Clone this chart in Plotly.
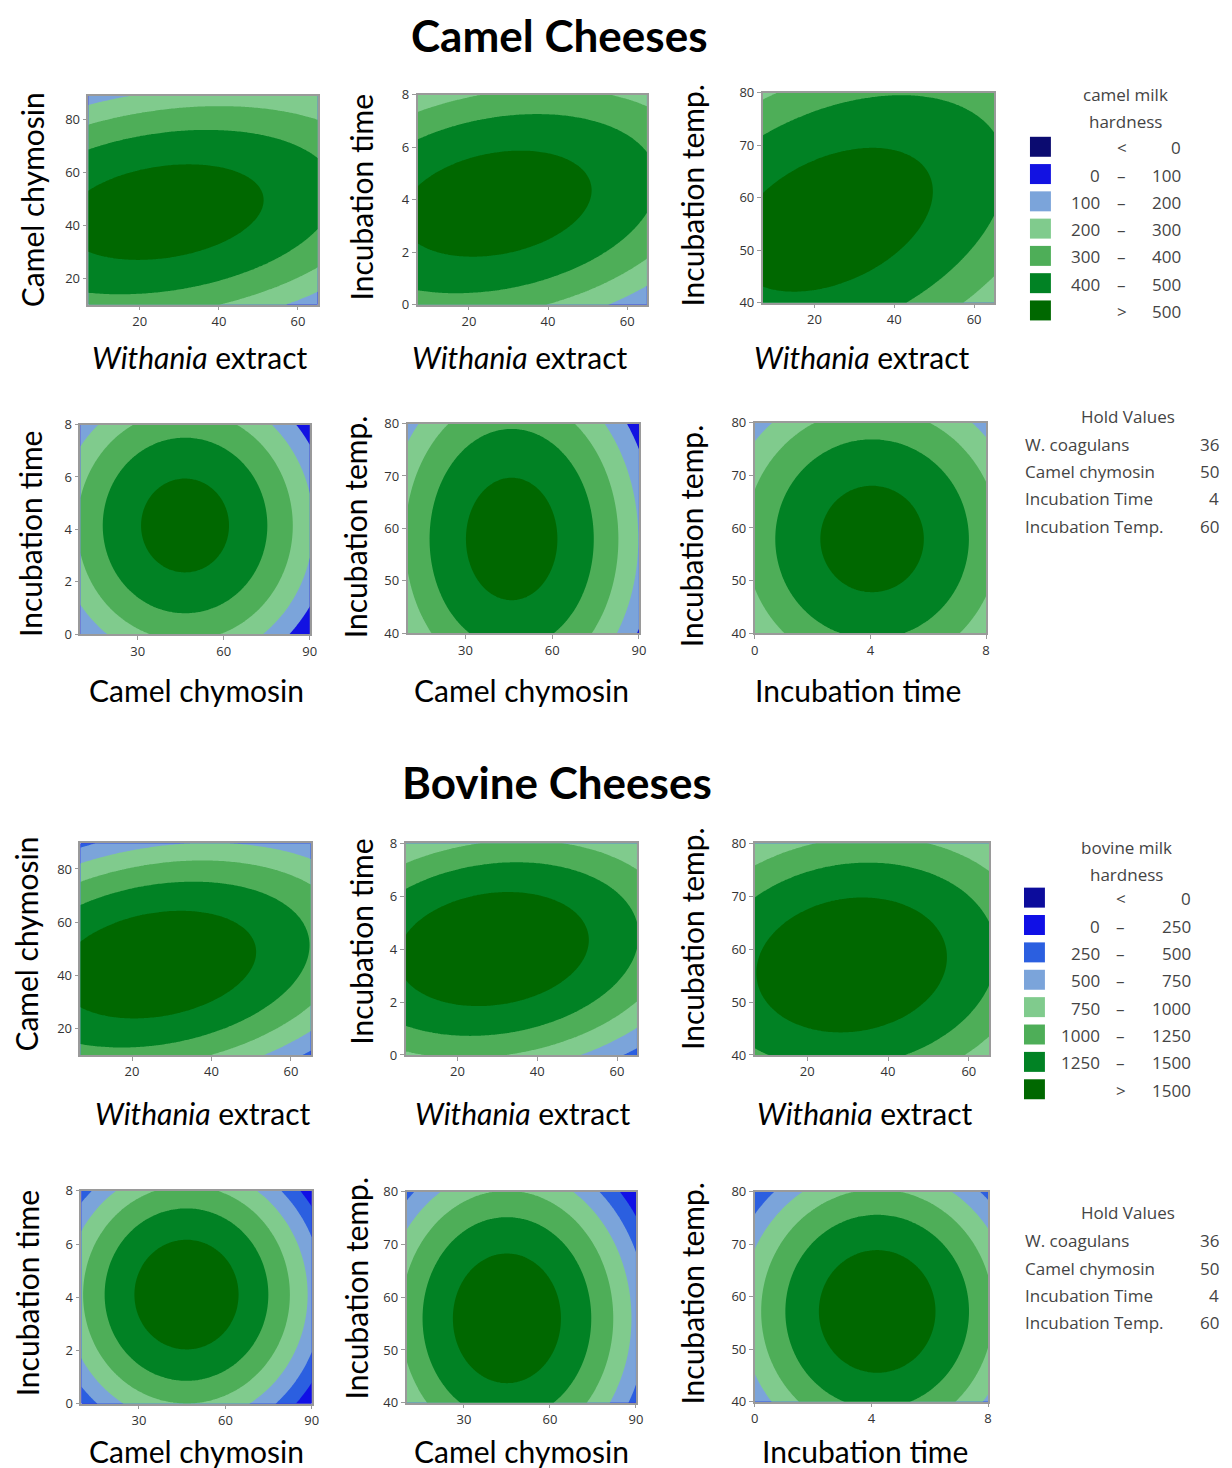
import numpy as np
import plotly.graph_objects as go

W, H = 1232, 1468

# ---------------- data ----------------
# Response-surface slices, one per panel (6 camel, 6 bovine).
# Each slice: hardness = peak - curv_x*dx^2 - curv_y*dy^2 + cross*dx*dy
panel_x_var = ["withania", "withania", "withania", "chymosin", "chymosin", "time",
               "withania", "withania", "withania", "chymosin", "chymosin", "time"]
panel_y_var = ["chymosin", "time", "temp", "time", "temp", "temp",
               "chymosin", "time", "temp", "time", "temp", "temp"]
x_low = [7, 7, 7, 10, 10, 0, 7, 7, 7, 10, 10, 0]
x_high = [65, 65, 65, 90, 90, 8, 65, 65, 65, 90, 90, 8]
y_low = [10, 0, 40, 0, 40, 40, 10, 0, 40, 0, 40, 40]
y_high = [89, 8, 80, 8, 80, 80, 89.7, 8, 80, 8, 80, 80]
center_x = [26, 27, 24.7, 46.5, 46, 4.06, 26.4, 29, 31, 46.5, 45, 4.2]
center_y = [45, 3.85, 55.8, 4.15, 58, 57.9, 44, 4.0, 57, 4.1, 56, 57.2]
peak = [551, 554, 550, 540, 545, 540, 1682, 1690, 1692, 1670, 1674, 1669]
curv_x = [0.085, 0.1, 0.095, 0.17, 0.18, 12.5, 0.312, 0.34, 0.35, 0.52, 0.49, 42.3]
curv_y = [0.1667, 14.1, 0.315, 12.5, 0.33, 0.392, 0.47, 42, 1.2, 40, 1.15, 1.235]
cross = [0.06, 0.6, 0.1365, 0, 0, 0, 0.18, 1.2, 0.15, 0, 0, 0]

tick_vals_x = {"withania": [20, 40, 60], "chymosin": [30, 60, 90], "time": [0, 4, 8]}
tick_vals_y = {"chymosin": [20, 40, 60, 80], "time": [0, 2, 4, 6, 8], "temp": [40, 50, 60, 70, 80]}
x_titles = {"withania": "<i>Withania</i> extract", "chymosin": "Camel chymosin", "time": "Incubation time"}
y_titles = {"chymosin": "Camel chymosin", "time": "Incubation time", "temp": "Incubation temp."}

camel_levels = [0, 100, 200, 300, 400, 500]
bovine_levels = [0, 250, 500, 750, 1000, 1250, 1500]
camel_colors = ["#0b0b70", "#1212e2", "#7ba4da", "#80cb8d", "#4eae58", "#018224", "#006800"]
bovine_colors = ["#0c0c9c", "#1010e6", "#2b5fe0", "#7ba4da", "#80cb8d", "#4eae58", "#018224", "#006800"]

hold_names = ["W. coagulans", "Camel chymosin", "Incubation Time", "Incubation Temp."]
hold_values = [36, 50, 4, 60]

# ---------------- layout geometry (target pixels) ----------------
boxes = [
    (85, 315, 96, 305), (415, 645, 95, 305), (761, 993, 93, 303),
    (77, 307, 425, 635), (405, 637, 424, 634), (753, 985, 423, 634),
    (77, 308, 844, 1056), (403, 635, 844, 1056), (753, 988, 844, 1056),
    (78, 309, 1192, 1405), (404, 634, 1193, 1404), (753, 987, 1193, 1403),
]
xtitle_pos = [(196, 357), (517, 357), (860, 357),
              (193, 691), (519, 691), (857, 691),
              (199, 1114), (520, 1114), (863, 1114),
              (193, 1452), (519, 1452), (864, 1452)]
ytitle_pos = [(28, 200), (358, 198), (690, 196),
              (27, 535), (353, 528), (690, 537),
              (23, 945), (358, 943), (690, 940),
              (23, 1295), (353, 1290), (690, 1295)]

# page framing compensation (page margin + fit-to-window scaling)
SX, OX = 0.9936, 8.5
SY, OY = 0.9886, 17.3

def px(x):
    return (x / SX - OX) / W

def py(y):
    return 1 - (y / SY - OY) / H

def step_scale(colors):
    n = len(colors)
    return [[i / (n - 1), c] for i, c in enumerate(colors)]

fig = go.Figure()
annotations = []
shapes = []

title_font = dict(family="Lato, sans-serif", size=30, color="#000000")

for i in range(12):
    k = "" if i == 0 else str(i + 1)
    xs = np.linspace(x_low[i], x_high[i], 121)
    ys = np.linspace(y_low[i], y_high[i], 121)
    X, Y = np.meshgrid(xs, ys)
    dx = X - center_x[i]
    dy = Y - center_y[i]
    Z = peak[i] - curv_x[i] * dx ** 2 - curv_y[i] * dy ** 2 + cross[i] * dx * dy
    if i < 6:
        levels, colors = camel_levels, camel_colors
    else:
        levels, colors = bovine_levels, bovine_colors
    fig.add_trace(go.Contour(
        x=xs, y=ys, z=Z,
        xaxis="x" + k, yaxis="y" + k,
        autocontour=False,
        contours=dict(start=levels[0], end=levels[-1], size=levels[1] - levels[0],
                      coloring="fill", showlines=False),
        colorscale=step_scale(colors),
        showscale=False,
        line=dict(width=0, smoothing=0),
        hoverinfo="skip",
    ))
    l, r, t, b = boxes[i]
    axis_common = dict(showline=True, mirror=True, linecolor="#9a9a9a", linewidth=1.5,
                       ticks="outside", ticklen=4, tickcolor="#9a9a9a", tickwidth=1,
                       showgrid=False, zeroline=False,
                       tickfont=dict(family="Open Sans, sans-serif", size=13, color="#333333"))
    fig.update_layout({
        "xaxis" + k: dict(domain=[px(l), px(r)], anchor="y" + k,
                          range=[x_low[i], x_high[i]],
                          tickvals=tick_vals_x[panel_x_var[i]], **axis_common),
        "yaxis" + k: dict(domain=[py(b), py(t)], anchor="x" + k,
                          range=[y_low[i], y_high[i]],
                          tickvals=tick_vals_y[panel_y_var[i]], **axis_common),
    })
    cx, cy = xtitle_pos[i]
    annotations.append(dict(text=x_titles[panel_x_var[i]], x=px(cx), y=py(cy),
                            xref="paper", yref="paper", xanchor="center", yanchor="middle",
                            showarrow=False, font=title_font))
    cx, cy = ytitle_pos[i]
    annotations.append(dict(text=y_titles[panel_y_var[i]], x=px(cx), y=py(cy),
                            xref="paper", yref="paper", xanchor="center", yanchor="middle",
                            textangle=-90, showarrow=False, font=title_font))

# section titles
for txt, cx, cy in [("Camel Cheeses", 557, 35), ("Bovine Cheeses", 555, 783)]:
    annotations.append(dict(text="<b>" + txt + "</b>", x=px(cx), y=py(cy), xref="paper", yref="paper",
                            xanchor="center", yanchor="middle", showarrow=False,
                            font=dict(family="Lato, sans-serif", size=44, color="#000000")))

legend_font = dict(family="Open Sans, sans-serif", size=17, color="#444444")

def add_legend(title, levels, colors, cx_title, y_title1, y_title2, sw_x0, row0, spacing, lc, dc, rc):
    annotations.append(dict(text=title, x=px(cx_title), y=py(y_title1), xref="paper", yref="paper",
                            xanchor="center", yanchor="middle", showarrow=False, font=legend_font))
    annotations.append(dict(text="hardness", x=px(cx_title), y=py(y_title2), xref="paper", yref="paper",
                            xanchor="center", yanchor="middle", showarrow=False, font=legend_font))
    rows = [("", "<", str(levels[0]))]
    for a, b in zip(levels[:-1], levels[1:]):
        rows.append((str(a), "–", str(b)))
    rows.append(("", ">", str(levels[-1])))
    for j, (a, d, b) in enumerate(rows):
        yc = row0 + spacing * j
        shapes.append(dict(type="rect", xref="paper", yref="paper",
                           x0=px(sw_x0), x1=px(sw_x0 + 21), y0=py(yc + 10), y1=py(yc - 10),
                           fillcolor=colors[j], line=dict(width=0)))
        if a:
            annotations.append(dict(text=a, x=px(lc), y=py(yc + 1), xref="paper", yref="paper",
                                    xanchor="right", yanchor="middle", showarrow=False, font=legend_font))
        annotations.append(dict(text=d, x=px(dc), y=py(yc + 1), xref="paper", yref="paper",
                                xanchor="center", yanchor="middle", showarrow=False, font=legend_font))
        annotations.append(dict(text=b, x=px(rc), y=py(yc + 1), xref="paper", yref="paper",
                                xanchor="right", yanchor="middle", showarrow=False, font=legend_font))

add_legend("camel milk", camel_levels, camel_colors, 1125, 95, 122, 1029, 147, 27.3, 1101, 1121, 1182)
add_legend("bovine milk", bovine_levels, bovine_colors, 1126, 848, 875, 1023, 898.5, 27.4, 1101, 1120, 1192)

def add_hold(y_head, rows_y0, spacing):
    annotations.append(dict(text="Hold Values", x=px(1127), y=py(y_head), xref="paper", yref="paper",
                            xanchor="center", yanchor="middle", showarrow=False, font=legend_font))
    for j, (n, v) in enumerate(zip(hold_names, hold_values)):
        yc = rows_y0 + spacing * j
        annotations.append(dict(text=n, x=px(1022), y=py(yc), xref="paper", yref="paper",
                                xanchor="left", yanchor="middle", showarrow=False, font=legend_font))
        annotations.append(dict(text=str(v), x=px(1221), y=py(yc), xref="paper", yref="paper",
                                xanchor="right", yanchor="middle", showarrow=False, font=legend_font))

add_hold(417, 445, 27.2)
add_hold(1214, 1242, 27.3)

fig.update_layout(width=W, height=H, margin=dict(l=0, r=0, t=0, b=0),
                  paper_bgcolor="white", plot_bgcolor="white", showlegend=False,
                  annotations=annotations, shapes=shapes)

fig.write_html("out.html")
